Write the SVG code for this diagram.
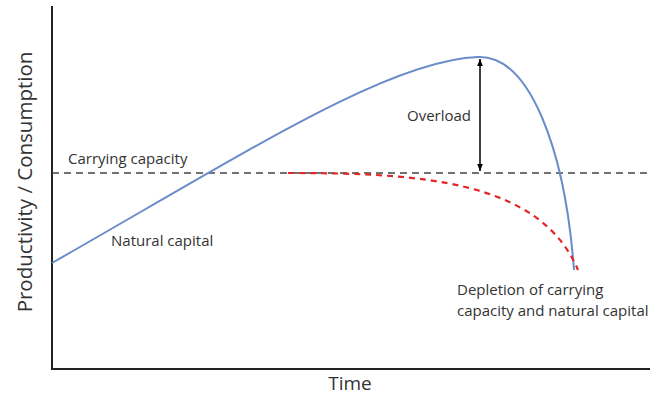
<svg xmlns="http://www.w3.org/2000/svg" width="664" height="398" viewBox="0 0 664 398">
<style>
text{font-family:"Open Sans","Liberation Sans",sans-serif;fill:#333}
.lbl{font-size:15px}
.axis{stroke:#222;stroke-width:2;fill:none}
.cap{stroke:#444;stroke-width:1.6;stroke-dasharray:7 5;fill:none}
.nat{stroke:#6a8cc8;stroke-width:2;fill:none}
.dep{stroke:#e02828;stroke-width:2.2;stroke-dasharray:6 5;fill:none}
.arr{stroke:#000;stroke-width:1.5;fill:none}
</style>
<defs>
<marker id="ah" viewBox="0 0 10 10" refX="10" refY="5" markerWidth="7" markerHeight="7" orient="auto-start-reverse" markerUnits="userSpaceOnUse">
<path d="M0,1 L10,5 L0,9 z" fill="#000"/>
</marker>
</defs>
<rect width="664" height="398" fill="#fff"/>
<g id="axes">
<path class="axis" d="M52,6 V369 H650"/>
<text x="350" y="390" font-size="19" text-anchor="middle">Time</text>
<text transform="translate(32,182) rotate(-90)" font-size="20.5" text-anchor="middle">Productivity / Consumption</text>
</g>
<g id="connectors">
<path id="carrying-line" class="cap" d="M52,173 H650"/>
<path id="natural-curve" class="nat" d="M52,263 C250,150 390,60 478,57 C530,55 565,150 574,270"/>
<path id="depletion-curve" class="dep" d="M288,173 C420,173 540,180 578,270"/>
<path id="overload-arrow" class="arr" d="M480,59 V171" marker-start="url(#ah)" marker-end="url(#ah)"/>
</g>
<g id="carrying-capacity"><text class="lbl" x="68" y="164">Carrying capacity</text></g>
<g id="natural-capital"><text class="lbl" x="111" y="246">Natural capital</text></g>
<g id="overload"><text class="lbl" x="407" y="121">Overload</text></g>
<g id="depletion">
<text class="lbl" x="457" y="295">Depletion of carrying</text>
<text class="lbl" x="457" y="316">capacity and natural capital</text>
</g>
</svg>
